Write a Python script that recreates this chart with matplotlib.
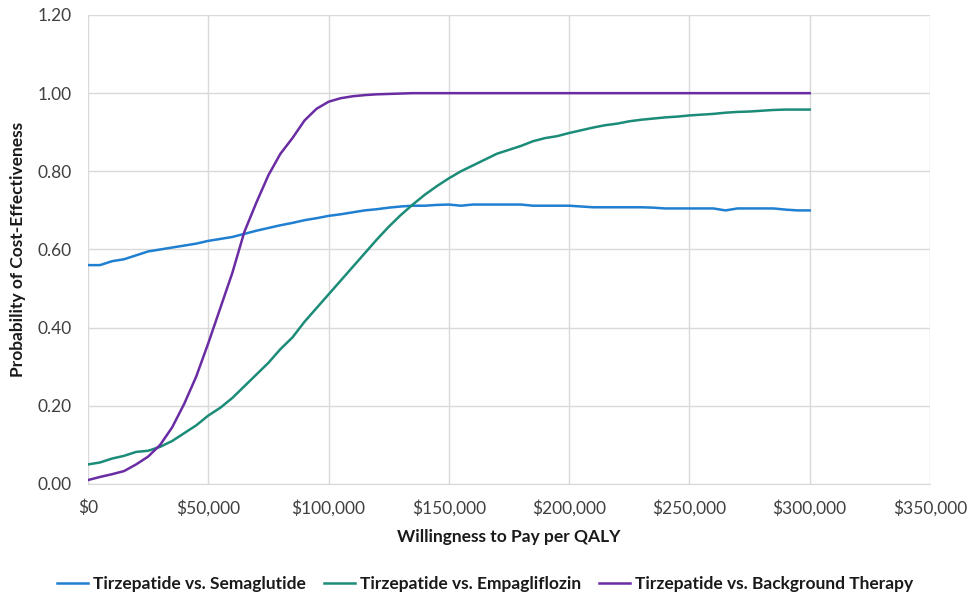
import matplotlib
matplotlib.use('Agg')
from matplotlib import pyplot as plt
from matplotlib.ticker import FuncFormatter

wtp = list(range(0, 300001, 5000))

semaglutide = [0.560, 0.560, 0.570, 0.575, 0.585, 0.595, 0.600, 0.605, 0.610, 0.615,
               0.622, 0.627, 0.632, 0.640, 0.648, 0.655, 0.662, 0.668, 0.675, 0.680,
               0.686, 0.690, 0.695, 0.700, 0.703, 0.707, 0.710, 0.712, 0.712, 0.714,
               0.715, 0.712, 0.715, 0.715, 0.715, 0.715, 0.715, 0.712, 0.712, 0.712,
               0.712, 0.710, 0.708, 0.708, 0.708, 0.708, 0.708, 0.707, 0.705, 0.705,
               0.705, 0.705, 0.705, 0.700, 0.705, 0.705, 0.705, 0.705, 0.702, 0.700,
               0.700]

empagliflozin = [0.050, 0.055, 0.065, 0.072, 0.082, 0.085, 0.095, 0.110, 0.130, 0.150,
                 0.175, 0.195, 0.220, 0.250, 0.280, 0.310, 0.345, 0.375, 0.415, 0.450,
                 0.485, 0.520, 0.555, 0.590, 0.625, 0.658, 0.688, 0.715, 0.740, 0.762,
                 0.782, 0.800, 0.815, 0.830, 0.845, 0.855, 0.865, 0.877, 0.885, 0.890,
                 0.898, 0.905, 0.912, 0.918, 0.922, 0.928, 0.932, 0.935, 0.938, 0.940,
                 0.943, 0.945, 0.947, 0.950, 0.952, 0.953, 0.955, 0.957, 0.958, 0.958,
                 0.958]

background = [0.010, 0.018, 0.025, 0.033, 0.050, 0.070, 0.100, 0.145, 0.205, 0.275,
              0.360, 0.450, 0.540, 0.645, 0.720, 0.790, 0.845, 0.885, 0.930, 0.960,
              0.978, 0.987, 0.992, 0.995, 0.997, 0.998, 0.999] + [1.0] * 34

series = [
    ('Tirzepatide vs. Semaglutide', semaglutide, '#1f7fd0'),
    ('Tirzepatide vs. Empagliflozin', empagliflozin, '#1b8c78'),
    ('Tirzepatide vs. Background Therapy', background, '#6a2ca3'),
]

plt.rcParams['font.family'] = ['Lato', 'DejaVu Sans']

fig = plt.figure(figsize=(9.7, 5.95), dpi=100)
ax = fig.add_axes([0.0907, 0.1866, 0.868, 0.7882])

for label, vals, color in series:
    ax.plot(wtp, vals, color=color, lw=1.8, label=label)

ax.set_xlim(0, 350000)
ax.set_ylim(0, 1.2)
ax.set_xticks(range(0, 350001, 50000))
ax.set_yticks([i * 0.2 for i in range(7)])
ax.xaxis.set_major_formatter(FuncFormatter(lambda v, p: f'${v:,.0f}'))
ax.yaxis.set_major_formatter(FuncFormatter(lambda v, p: f'{v:.2f}'))
ax.grid(color='#d9d9d9', lw=1)
ax.set_axisbelow(True)
for s in ['top', 'right', 'left']:
    ax.spines[s].set_visible(False)
ax.spines['bottom'].set_color('#d9d9d9')
ax.tick_params(length=0, labelsize=12.5, colors='#404040')
ax.tick_params(axis='y', pad=12)
ax.tick_params(axis='x', pad=11)

ax.set_xlabel('Willingness to Pay per QALY', fontsize=12.5, fontweight='bold',
              color='#1a1a1a', labelpad=9)
ax.set_ylabel('Probability of Cost-Effectiveness', fontsize=12.5, fontweight='bold',
              color='#1a1a1a', labelpad=8)

fig.legend(loc='lower center', bbox_to_anchor=(0.5, -0.022), ncol=3, frameon=False,
           prop={'weight': 'bold', 'size': 12.5}, handlelength=1.8,
           handletextpad=0.3, columnspacing=1.0, labelcolor='#1a1a1a')

fig.savefig('out.png', dpi=100)
